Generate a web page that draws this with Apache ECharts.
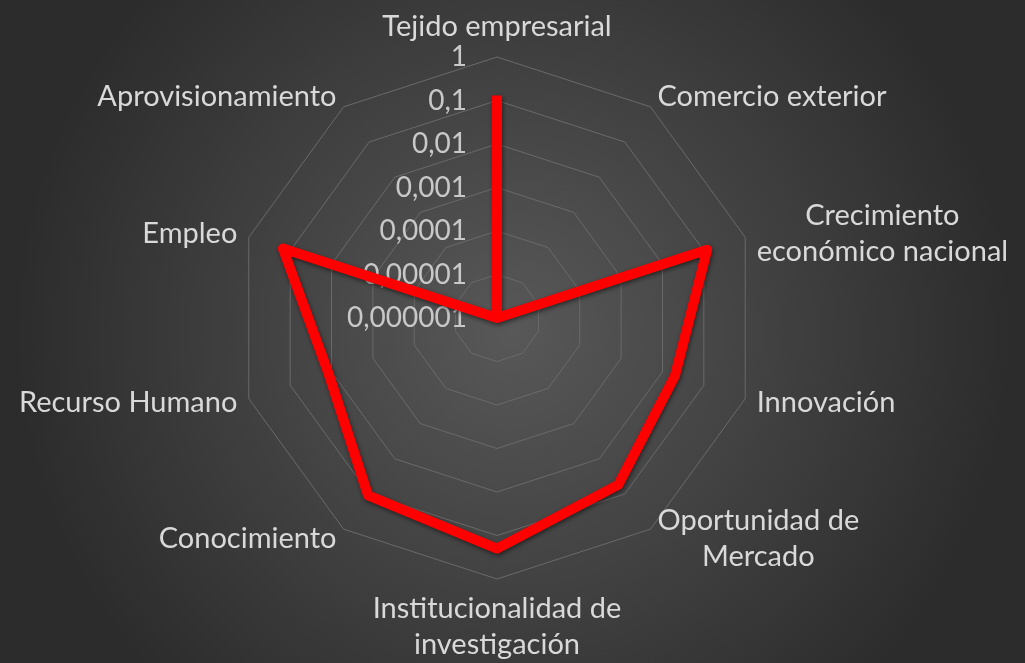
<!DOCTYPE html>
<html>
<head>
<meta charset="utf-8">
<style>
  html, body { margin: 0; padding: 0; background: #3a3a3a; }
  #chart { width: 1025px; height: 663px; }
</style>
<script src="https://cdn.jsdelivr.net/npm/echarts@6/dist/echarts.min.js"></script>
</head>
<body>
<div id="chart"></div>
<script>
// categories, clockwise from the top
var categories = [
  'Tejido empresarial',
  'Comercio exterior',
  'Crecimiento\neconómico nacional',
  'Innovación',
  'Oportunidad de\nMercado',
  'Institucionalidad de\ninvestigación',
  'Conocimiento',
  'Recurso Humano',
  'Empleo',
  'Aprovisionamiento'
];
// values (0,000001 .. 1)
var values = [0.13, 0.000001, 0.12, 0.02, 0.055, 0.2, 0.11, 0.012, 0.15, 0.000001];
var tickLabels = ['0,000001', '0,00001', '0,0001', '0,001', '0,01', '0,1', '1'];

var LOG_MIN = -6;

// echarts radar runs counter-clockwise, so keep the first one and reverse the rest
function clockwise(arr){
  return [arr[0]].concat(arr.slice(1).reverse());
}

var indicator = clockwise(categories).map(function(name, i){
  var ind = { name: name, min: 0, max: -LOG_MIN };
  if(i === 0){
    ind.axisLabel = { show: true };
  }
  return ind;
});

var data = clockwise(values).map(function(v){
  return Math.max(0, Math.log10(v) - LOG_MIN);
});

var chart = echarts.init(document.getElementById('chart'));

chart.setOption({
  animation: false,
  backgroundColor: {
    type: 'radial',
    x: 0.5, y: 0.5, r: 0.75,
    colorStops: [
      { offset: 0, color: '#585858' },
      { offset: 1, color: '#2c2c2c' }
    ]
  },
  radar: {
    center: [497, 318],
    radius: 261,
    startAngle: 90,
    splitNumber: 6,
    shape: 'polygon',
    nameGap: 12,
    indicator: indicator,
    axisName: {
      color: '#d9d9d9',
      fontSize: 29,
      fontFamily: 'Lato',
      formatter: function(name){
        return name.split('\n').map(function(s){ return '{a|' + s + '}'; }).join('\n');
      },
      rich: {
        a: { align: 'center', color: '#d9d9d9', fontSize: 29, fontFamily: 'Lato', lineHeight: 36 }
      }
    },
    axisLine: { show: false },
    axisTick: { show: false },
    splitArea: { show: false },
    splitLine: {
      lineStyle: { color: '#6a6a6a', width: 1 }
    },
    axisLabel: {
      show: false,
      color: '#c8c8c8',
      fontSize: 28,
      fontFamily: 'Lato',
      margin: 30,
      formatter: function(v){
        return tickLabels[Math.round(v)];
      }
    }
  },
  series: [{
    type: 'radar',
    symbol: 'none',
    lineStyle: {
      color: '#ff0000',
      width: 10,
      join: 'round',
      shadowBlur: 4,
      shadowColor: 'rgba(0,0,0,0.5)',
      shadowOffsetX: 1,
      shadowOffsetY: 2
    },
    data: [{ value: data, name: 'Serie' }]
  }]
});
</script>
</body>
</html>
